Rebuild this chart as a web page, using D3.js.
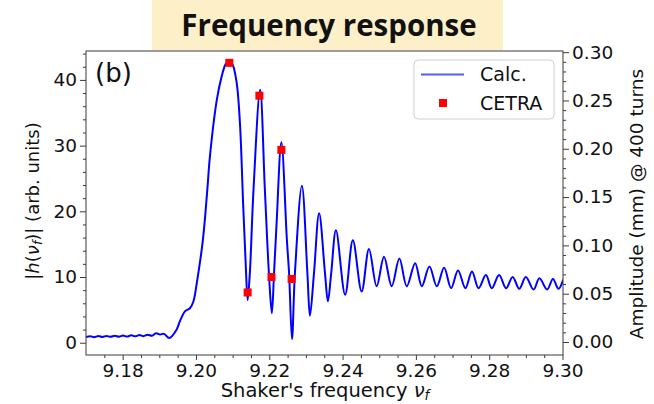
<!DOCTYPE html>
<html>
<head>
<meta charset="utf-8">
<script src="https://cdn.jsdelivr.net/npm/d3@7/dist/d3.min.js"></script>
<style>
  html, body { margin: 0; padding: 0; background: #fff; }
  svg { display: block; }
  text { font-family: "DejaVu Sans", sans-serif; fill: #111; }
</style>
</head>
<body>
<svg id="chart" width="654" height="404"></svg>
<script>
// ---------- data ----------
const calcNu = [9.1700, 9.1711, 9.1722, 9.1734, 9.1745, 9.1756, 9.1767, 9.1779, 9.1790, 9.1801,
  9.1812, 9.1823, 9.1835, 9.1846, 9.1857, 9.1868, 9.1880, 9.1891, 9.1902, 9.1913,
  9.1927, 9.1947, 9.1956, 9.1970, 9.1984, 9.1993, 9.2002, 9.2019, 9.2031, 9.2038,
  9.2057, 9.2070, 9.2081, 9.2090, 9.2100, 9.2111, 9.2120, 9.2129, 9.2136, 9.2141, 9.2147, 9.2157,
  9.2175, 9.2188, 9.2199, 9.2207, 9.2213, 9.2220, 9.2233, 9.2248, 9.2254, 9.2262,
  9.2270, 9.2289, 9.2304, 9.2311, 9.2322, 9.2336, 9.2352, 9.2360, 9.2369, 9.2382,
  9.2407, 9.2428, 9.2452, 9.2472, 9.2493, 9.2513, 9.2534, 9.2555, 9.2575, 9.2598,
  9.2616, 9.2637, 9.2657, 9.2677, 9.2696, 9.2715, 9.2735, 9.2753, 9.2771, 9.2791,
  9.2807, 9.2827, 9.2846, 9.2864, 9.2882, 9.2900, 9.2921, 9.2937, 9.2958, 9.2974,
  9.2989, 9.3002];
const calcH = [0.85, 1.00, 0.85, 1.02, 0.87, 1.04, 0.89, 1.06, 0.91, 1.08,
  0.93, 1.12, 0.97, 1.16, 1.00, 1.22, 1.05, 1.45, 1.25, 1.35,
  0.71, 1.98, 3.24, 4.76, 5.28, 6.28, 9.0, 15.7, 23.3, 28.3,
  37.0, 40.5, 42.4, 42.9, 42.3, 39.6, 33.4, 20.7, 11.6, 6.5, 10.6, 23.3,
  38.5, 23.3, 10.6, 4.5, 10.6, 18.2, 30.5, 15.7, 10.6, 0.56,
  10.6, 23.9, 10.6, 4.1, 10.6, 19.7, 10.6, 6.3, 10.6, 17.1,
  7.3, 15.6, 7.8, 14.25, 8.6, 13.1, 8.6, 12.8, 8.6, 12.1,
  8.6, 11.6, 8.6, 11.4, 8.3, 11.0, 8.3, 10.85, 8.3, 10.3,
  8.3, 10.3, 8.3, 10.0, 8.2, 10.0, 8.1, 9.8, 8.1, 9.7,
  8.2, 9.6];
const cetraNu = [9.2091, 9.2173, 9.2233, 9.2141, 9.2206, 9.2261];
const cetraH  = [42.6, 37.6, 29.35, 7.65, 10.0, 9.7];

const xTicks = [9.18, 9.20, 9.22, 9.24, 9.26, 9.28, 9.30];
const yLeftTicks = [0, 10, 20, 30, 40];
const yRightTicks = [0.00, 0.05, 0.10, 0.15, 0.20, 0.25, 0.30];
const legendLabels = ["Calc.", "CETRA"];
const titleText = "Frequency response";
const panelLabel = "(b)";

// ---------- layout ----------
const W = 654, H = 404;
const L = 86, R = 563, T = 51, B = 355;
const svg = d3.select("#chart");
svg.append("rect").attr("width", W).attr("height", H).attr("fill", "#fff");

const x = d3.scaleLinear().domain([9.17, 9.30]).range([L, R - 0.5]);
const yL = d3.scaleLinear().domain([-1.87, 44.4]).range([B, T]);
const yR = d3.scaleLinear().domain([-0.01346, 0.3012]).range([B, T]);

const axisColor = "#3a3a3a";
function styleAxis(g) {
  g.selectAll("path.domain").remove();
  g.selectAll("line").attr("stroke", axisColor).attr("stroke-width", 1);
  g.selectAll("text").attr("font-family", "DejaVu Sans").attr("fill", "#111");
}

// minor ticks
const xMinor = d3.range(9.175, 9.3001, 0.005).filter(v => !xTicks.some(t => Math.abs(t - v) < 1e-6));
const yLMinor = d3.range(0, 44.1, 2).filter(v => v % 10 !== 0);
const yRMinor = d3.range(0, 0.3001, 0.01).filter(v => !yRightTicks.some(t => Math.abs(t - v) < 1e-6));

svg.append("g").attr("transform", `translate(0,${B})`)
  .call(d3.axisBottom(x).tickValues(xMinor).tickSize(3).tickFormat(""))
  .call(styleAxis);
svg.append("g").attr("transform", `translate(${L},0)`)
  .call(d3.axisLeft(yL).tickValues(yLMinor).tickSize(3).tickFormat(""))
  .call(styleAxis);
svg.append("g").attr("transform", `translate(${R},0)`)
  .call(d3.axisRight(yR).tickValues(yRMinor).tickSize(3).tickFormat(""))
  .call(styleAxis);

// major ticks
const gx = svg.append("g").attr("transform", `translate(0,${B})`)
  .call(d3.axisBottom(x).tickValues(xTicks).tickSize(5).tickPadding(4).tickFormat(d3.format(".2f")))
  .call(styleAxis);
gx.selectAll("text").attr("font-size", 18.5).attr("dy", 0).attr("y", 21.5);

const gyl = svg.append("g").attr("transform", `translate(${L},0)`)
  .call(d3.axisLeft(yL).tickValues(yLeftTicks).tickSize(6).tickPadding(3).tickFormat(d3.format("d")))
  .call(styleAxis);
gyl.selectAll("text").attr("font-size", 18.5);

const gyr = svg.append("g").attr("transform", `translate(${R},0)`)
  .call(d3.axisRight(yR).tickValues(yRightTicks).tickSize(6).tickPadding(3).tickFormat(d3.format(".2f")))
  .call(styleAxis);
gyr.selectAll("text").attr("font-size", 18.5);

// clip
svg.append("clipPath").attr("id", "clip")
  .append("rect").attr("x", L).attr("y", T).attr("width", R - L).attr("height", B - T);

const calcData = calcNu.map((v, i) => [v, calcH[i]]);
const line = d3.line().x(d => x(d[0])).y(d => yL(d[1])).curve(d3.curveCatmullRom.alpha(0.5));
svg.append("path").datum(calcData)
  .attr("clip-path", "url(#clip)")
  .attr("d", line).attr("fill", "none")
  .attr("stroke", "#0000ff").attr("stroke-width", 2).attr("stroke-linejoin", "round");

const ms = 8;
svg.append("g").selectAll("rect").data(cetraNu.map((v, i) => [v, cetraH[i]])).join("rect")
  .attr("x", d => x(d[0]) - ms / 2).attr("y", d => yL(d[1]) - ms / 2)
  .attr("width", ms).attr("height", ms).attr("fill", "#ff0000");

// frame
svg.append("rect").attr("x", L).attr("y", T).attr("width", R - L).attr("height", B - T)
  .attr("fill", "none").attr("stroke", axisColor).attr("stroke-width", 1);

// panel label
svg.append("text").attr("x", 95).attr("y", 82).attr("font-size", 26).text(panelLabel);

// legend
const lg = svg.append("g");
lg.append("rect").attr("x", 414).attr("y", 60).attr("width", 140).attr("height", 59).attr("rx", 4)
  .attr("fill", "#fff").attr("fill-opacity", 0.8).attr("stroke", "#d0d0d0").attr("stroke-width", 1);
lg.append("line").attr("x1", 421).attr("x2", 464).attr("y1", 74.5).attr("y2", 74.5)
  .attr("stroke", "#0000ff").attr("stroke-opacity", 0.65).attr("stroke-width", 2);
lg.append("rect").attr("x", 443 - ms / 2).attr("y", 103 - ms / 2).attr("width", ms).attr("height", ms).attr("fill", "#ff0000");
lg.append("text").attr("x", 480).attr("y", 81).attr("font-size", 19).text(legendLabels[0]);
lg.append("text").attr("x", 480).attr("y", 109.5).attr("font-size", 19).text(legendLabels[1]);

// axis labels
const xl = svg.append("text").attr("x", 325).attr("y", 397).attr("text-anchor", "middle").attr("font-size", 19.5);
xl.append("tspan").text("Shaker's frequency ");
xl.append("tspan").attr("font-style", "italic").text("ν");
xl.append("tspan").attr("font-style", "italic").attr("font-size", 13.5).attr("dy", 3).text("f");

const yll = svg.append("text").attr("transform", "translate(39,201) rotate(-90)")
  .attr("text-anchor", "middle").attr("font-size", 18);
yll.append("tspan").text("|");
yll.append("tspan").attr("font-style", "italic").text("h");
yll.append("tspan").text("(");
yll.append("tspan").attr("font-style", "italic").text("ν");
yll.append("tspan").attr("font-style", "italic").attr("font-size", 12.5).attr("dy", 3).text("f");
yll.append("tspan").attr("dy", -3).text(")| (arb. units)");

svg.append("text").attr("transform", "translate(643,204) rotate(-90)")
  .attr("text-anchor", "middle").attr("font-size", 18.5).text("Amplitude (mm) @ 400 turns");

// title box
svg.append("rect").attr("x", 152).attr("y", 0).attr("width", 351).attr("height", 50).attr("fill", "#fdf0c8");
svg.append("text").attr("x", 329).attr("y", 36).attr("text-anchor", "middle")
  .attr("font-weight", 700).attr("font-size", 29.5)
  .style("font-family", "'Open Sans', sans-serif").text(titleText);
</script>
</body>
</html>
